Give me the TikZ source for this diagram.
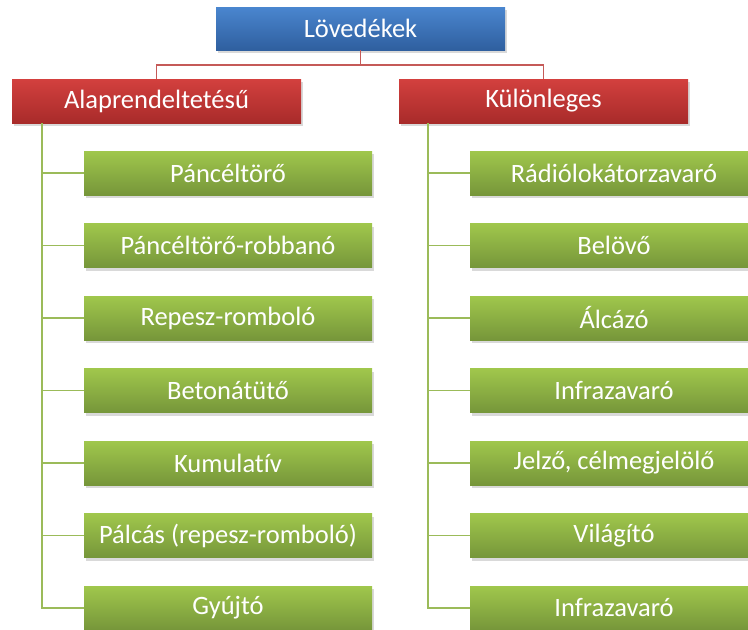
\documentclass[tikz,border=0pt]{standalone}
\usepackage{fontspec}
\setmainfont{Carlito}[Ligatures=NoCommon]
\usetikzlibrary{shadows}
\definecolor{bluetop}{HTML}{4A86CF}
\definecolor{bluebot}{HTML}{2F5F9F}
\definecolor{redtop}{HTML}{D3403E}
\definecolor{redbot}{HTML}{A82B2A}
\definecolor{greentop}{HTML}{A0C74C}
\definecolor{greenbot}{HTML}{76963A}
\definecolor{redline}{HTML}{C55A58}
\definecolor{greenline}{HTML}{9BBB59}
\tikzset{
  box/.style={rectangle, minimum width=289pt, minimum height=44pt, inner sep=0pt,
    text=white, font=\fontsize{26.5}{30}\selectfont,
    drop shadow={opacity=0.3, shadow xshift=1.5pt, shadow yshift=-3pt}},
  bluebox/.style={box, top color=bluetop, bottom color=bluebot},
  redbox/.style={box, top color=redtop, bottom color=redbot},
  greenbox/.style={box, minimum width=288pt, top color=greentop, bottom color=greenbot},
  rline/.style={draw=redline, line width=1.8pt},
  gline/.style={draw=greenline, line width=1.8pt}
}
\begin{document}
\begin{tikzpicture}[x=1pt,y=1pt]
\useasboundingbox (0,0) rectangle (748,-630);
\coordinate (j) at (360.5,-65);
\coordinate (lt) at (42,-123);
\coordinate (rt) at (428,-123);
\node[bluebox, minimum height=43pt] (top) at (360.5,-28.5) {Lövedékek};
\node[redbox] (L) at (156.5,-101) {Alaprendeltetésű};
\node[redbox] (R) at (543.5,-101) {Különleges};
\foreach \t [count=\i] in {Páncéltörő, Páncéltörő-robbanó, Repesz-romboló, Betonátütő, Kumulatív, Pálcás (repesz-romboló), Gyújtó}{
  \node[greenbox] (g\i) at (228,{-173-72.5*(\i-1)}) {\t};
}
\foreach \t [count=\i] in {Rádiólokátorzavaró, Belövő, Álcázó, Infrazavaró, {Jelző, célmegjelölő}, Világító, Infrazavaró}{
  \node[greenbox] (h\i) at (614,{-173-72.5*(\i-1)}) {\t};
}
\draw[rline] (top.south) -- (j);
\draw[rline] (j) -| (L.north);
\draw[rline] (j) -| (R.north);
\draw[gline] (lt) |- (g7.west);
\draw[gline] (rt) |- (h7.west);
\foreach \i in {1,...,6}{
  \draw[gline] (g\i.west -| lt) -- (g\i.west);
  \draw[gline] (h\i.west -| rt) -- (h\i.west);
}
\end{tikzpicture}
\end{document}
